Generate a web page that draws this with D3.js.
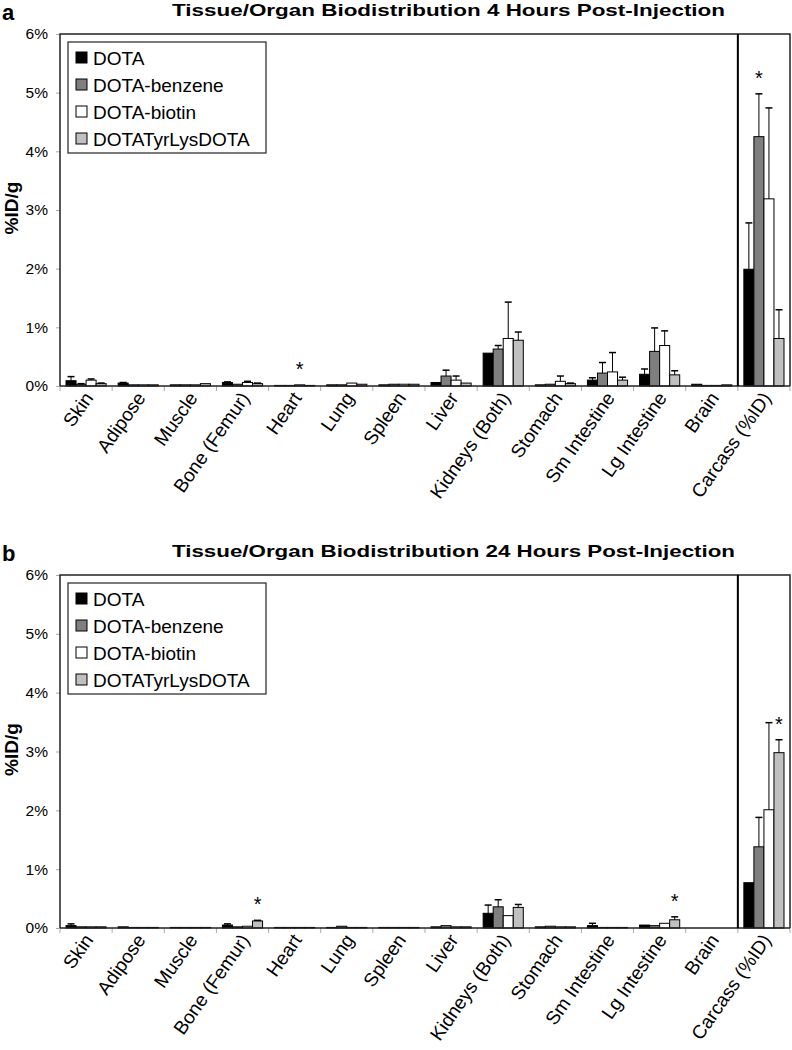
<!DOCTYPE html>
<html><head><meta charset="utf-8">
<script src="https://cdn.jsdelivr.net/npm/d3@7"></script>
<style>
body{margin:0;background:#fff;}
text{font-family:"Liberation Sans",Arial,sans-serif;fill:#000;}
</style></head>
<body><svg id="chart" width="792" height="1050"></svg>
<script>
// ---------- data ----------
const categories = ["Skin","Adipose","Muscle","Bone (Femur)","Heart","Lung","Spleen","Liver",
  "Kidneys (Both)","Stomach","Sm Intestine","Lg Intestine","Brain","Carcass (%ID)"];
const seriesNames = ["DOTA","DOTA-benzene","DOTA-biotin","DOTATyrLysDOTA"];
const seriesColors = ["#000000","#7f7f7f","#ffffff","#c0c0c0"];
const yTickValues = [0,1,2,3,4,5,6];

// 4 hours post-injection (%ID/g; carcass %ID)
const dota4h     = [0.09,0.05,0.02,0.06,0.01,0.02,0.02,0.06,0.56,0.02,0.10,0.20,0.03,1.99];
const benzene4h  = [0.03,0.02,0.02,0.03,0.01,0.02,0.03,0.17,0.63,0.03,0.22,0.59,0.01,4.25];
const biotin4h   = [0.10,0.02,0.02,0.06,0.02,0.05,0.03,0.10,0.81,0.08,0.24,0.69,0.01,3.19];
const tyr4h      = [0.04,0.02,0.04,0.04,0.01,0.03,0.03,0.05,0.78,0.04,0.10,0.19,0.02,0.81];
const dota4hErr    = [0.07,0.01,0,0.01,0,0,0,0,0,0,0.04,0.09,0,0.79];
const benzene4hErr = [0.01,0,0,0,0,0,0,0.10,0.06,0,0.18,0.40,0,0.73];
const biotin4hErr  = [0.02,0,0,0.02,0,0,0,0.07,0.62,0.09,0.33,0.25,0,1.55];
const tyr4hErr     = [0.01,0,0,0.01,0,0,0,0,0.14,0.01,0.05,0.07,0,0.49];

// 24 hours post-injection
const dota24h    = [0.04,0.02,0.01,0.05,0.01,0.01,0.01,0.02,0.25,0.02,0.04,0.05,0,0.77];
const benzene24h = [0.02,0.01,0.01,0.02,0.01,0.03,0.01,0.04,0.36,0.03,0.01,0.04,0,1.38];
const biotin24h  = [0.02,0.01,0.01,0.03,0.01,0.01,0.01,0.02,0.21,0.02,0.01,0.08,0,2.01];
const tyr24h     = [0.02,0.01,0.01,0.12,0.01,0.01,0.01,0.02,0.35,0.02,0.01,0.14,0,2.98];
const dota24hErr    = [0.03,0,0,0.02,0,0,0,0,0.14,0,0.04,0,0,0];
const benzene24hErr = [0,0,0,0,0,0,0,0,0.12,0,0,0,0,0.50];
const biotin24hErr  = [0,0,0,0,0,0,0,0,0,0,0,0,0,1.48];
const tyr24hErr     = [0,0,0,0.01,0,0,0,0,0.05,0,0,0.05,0,0.22];

// significance markers: [category, series index]
const sig4h  = [["Heart",2],["Carcass (%ID)",1]];
const sig24h = [["Bone (Femur)",3],["Lg Intestine",3],["Carcass (%ID)",3]];

const panels = [
  {letter:"a", title:"Tissue/Organ Biodistribution 4 Hours Post-Injection",
   values:[dota4h,benzene4h,biotin4h,tyr4h], errs:[dota4hErr,benzene4hErr,biotin4hErr,tyr4hErr],
   sig:sig4h, top:34, base:386, titleW:553},
  {letter:"b", title:"Tissue/Organ Biodistribution 24 Hours Post-Injection",
   values:[dota24h,benzene24h,biotin24h,tyr24h], errs:[dota24hErr,benzene24hErr,biotin24hErr,tyr24hErr],
   sig:sig24h, top:575, base:928, titleW:563}
];

// ---------- drawing ----------
const svg = d3.select("#chart");
const left = 60, right = 790;

panels.forEach(p => {
  const g = svg.append("g");
  const x = d3.scaleBand().domain(categories).range([left, right]).paddingInner(0).paddingOuter(0);
  const xs = d3.scaleBand().domain(d3.range(seriesNames.length)).range([6, x.bandwidth()-6]);
  const y = d3.scaleLinear().domain([0, 6]).range([p.base, p.top]);

  // panel letter & title
  g.append("text").attr("x", 2).attr("y", p.top - 14).attr("font-size", 22).attr("font-weight", "bold").text(p.letter);
  g.append("text").attr("x", 172).attr("y", p.top - 18).attr("font-size", 16.5).attr("font-weight", "bold")
    .attr("textLength", p.titleW).attr("lengthAdjust", "spacingAndGlyphs").text(p.title);

  // y axis
  const ya = g.append("g").attr("transform", `translate(${left},0)`)
    .call(d3.axisLeft(y).tickValues(yTickValues).tickFormat(d => d + "%").tickSize(4).tickPadding(8));
  ya.select(".domain").remove();
  ya.selectAll(".tick line").attr("stroke", "#aaa");
  ya.selectAll(".tick text").attr("font-size", 15.5).attr("font-family", "Liberation Sans, Arial, sans-serif").attr("fill", "#222");

  g.append("text").attr("transform", `translate(18,${(p.top + p.base) / 2 - 2}) rotate(-90)`)
    .attr("text-anchor", "middle").attr("font-size", 19).attr("font-weight", "bold").text("%ID/g");

  // x ticks between categories
  const bounds = categories.map(c => x(c)).concat([x(categories[categories.length-1]) + x.bandwidth()]);
  g.selectAll(".xtick").data(bounds).join("line")
    .attr("x1", d => d).attr("x2", d => d).attr("y1", p.base).attr("y2", p.base + 5)
    .attr("stroke", "#aaa").attr("stroke-width", 1);

  // category labels
  g.selectAll(".xlab").data(categories).join("text")
    .attr("text-anchor", "end").attr("font-size", 19)
    .attr("transform", d => `translate(${x(d) + x.bandwidth()/2 + 8},${p.base + 12}) rotate(-55)`)
    .text(d => d);

  // bars
  const groups = g.selectAll(".grp").data(categories).join("g")
    .attr("transform", d => `translate(${x(d)},0)`);
  seriesNames.forEach((s, si) => {
    groups.append("rect")
      .attr("x", xs(si)).attr("width", xs.bandwidth())
      .attr("y", (d, i) => y(p.values[si][i]))
      .attr("height", (d, i) => p.base - y(p.values[si][i]))
      .attr("fill", seriesColors[si]).attr("stroke", "#000").attr("stroke-width", 1);
  });
  // error bars
  seriesNames.forEach((s, si) => {
    const cx = xs(si) + xs.bandwidth()/2;
    groups.filter((d, i) => p.errs[si][i] > 0).each(function(d) {
      const i = categories.indexOf(d);
      const v = p.values[si][i], e = p.errs[si][i];
      const sel = d3.select(this);
      sel.append("line").attr("x1", cx).attr("x2", cx).attr("y1", y(v)).attr("y2", y(v + e))
        .attr("stroke", "#000").attr("stroke-width", 1);
      sel.append("line").attr("x1", cx - 3.5).attr("x2", cx + 3.5).attr("y1", y(v + e)).attr("y2", y(v + e))
        .attr("stroke", "#000").attr("stroke-width", 1.5);
    });
  });

  // significance asterisks
  p.sig.forEach(([cat, si]) => {
    const i = categories.indexOf(cat);
    const top = y(p.values[si][i] + p.errs[si][i]);
    g.append("text").attr("x", x(cat) + xs(si) + xs.bandwidth()/2).attr("y", top - 9)
      .attr("text-anchor", "middle").attr("font-size", 20).attr("fill", "#222").text("*");
  });

  // plot frame, divider, baseline
  g.append("path").attr("d", `M${left},${p.base}V${p.top}H${right}V${p.base}`)
    .attr("fill", "none").attr("stroke", "#222").attr("stroke-width", 1.5);
  g.append("line").attr("x1", left).attr("x2", right).attr("y1", p.base).attr("y2", p.base)
    .attr("stroke", "#222").attr("stroke-width", 1.5);
  const divX = x("Carcass (%ID)");
  g.append("line").attr("x1", divX).attr("x2", divX).attr("y1", p.top).attr("y2", p.base)
    .attr("stroke", "#000").attr("stroke-width", 2);

  // legend
  const lg = g.append("g").attr("transform", `translate(68,${p.top + 8})`);
  lg.append("rect").attr("width", 198).attr("height", 111).attr("fill", "#fff").attr("stroke", "#222").attr("stroke-width", 1.2);
  seriesNames.forEach((s, si) => {
    const ry = 16 + si * 27;
    lg.append("rect").attr("x", 8).attr("y", ry - 6).attr("width", 11).attr("height", 11)
      .attr("fill", seriesColors[si]).attr("stroke", "#000").attr("stroke-width", 1);
    lg.append("text").attr("x", 25).attr("y", ry + 7).attr("font-size", 19).text(s);
  });
});
</script></body></html>
